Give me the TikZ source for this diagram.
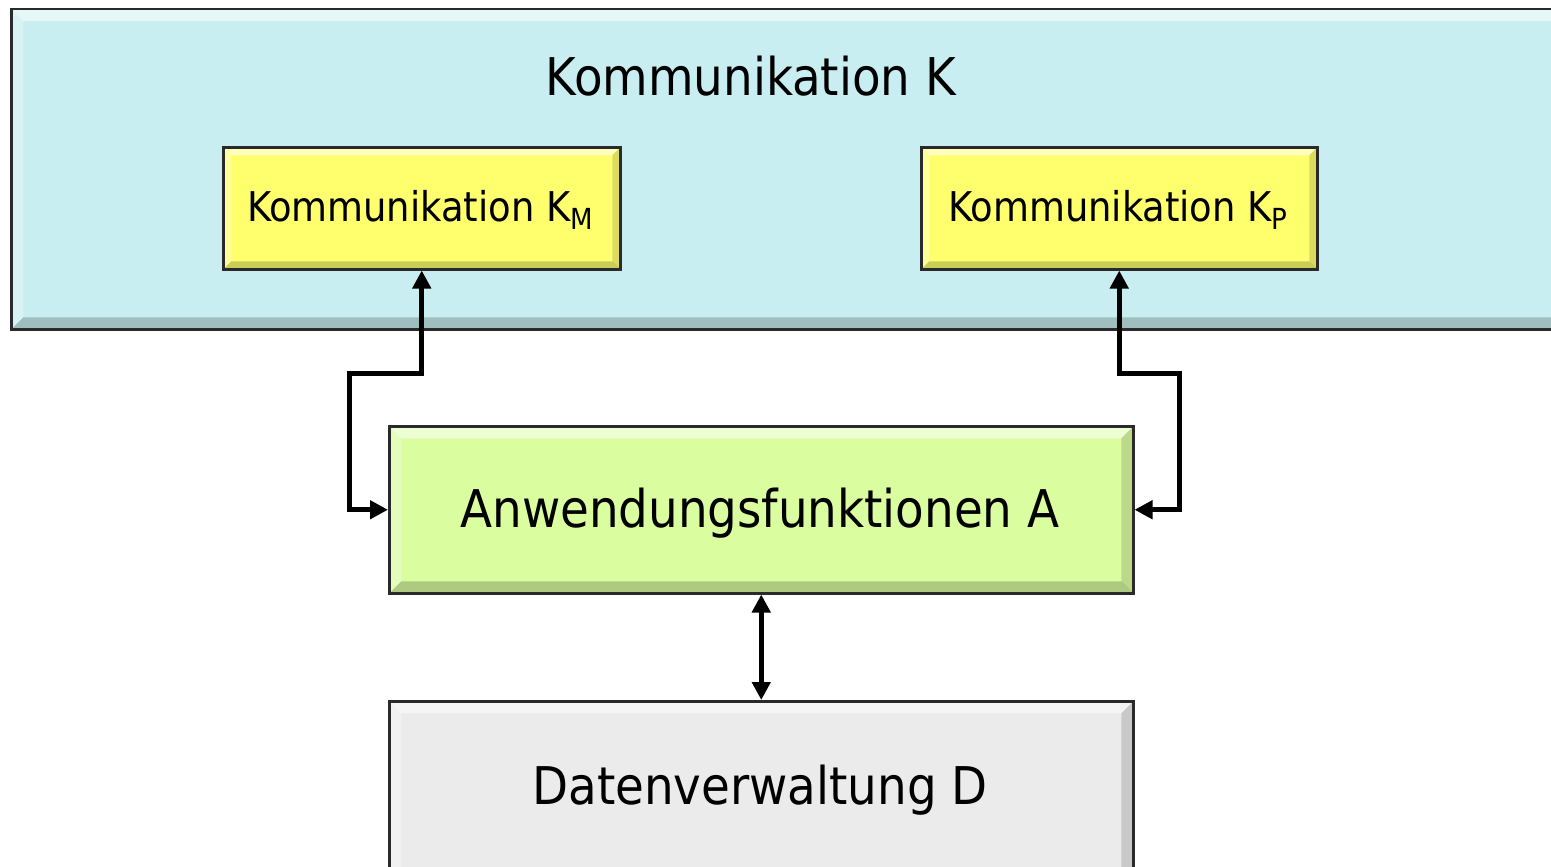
\documentclass[tikz,border=0pt]{standalone}
\usepackage{fontspec}
\setmainfont{DejaVu Sans Condensed}
\usetikzlibrary{arrows.meta}
\definecolor{kfill}{HTML}{C9EEF1}
\definecolor{subfill}{HTML}{FFFF6E}
\definecolor{afill}{HTML}{DAFDA0}
\definecolor{dfill}{HTML}{EBEBEB}
\definecolor{edge}{HTML}{2A2A2A}
\newcommand{\sub}[1]{\raisebox{-8pt}{\fontsize{29}{29}\selectfont #1}}
\tikzset{
  bevel/.style={path picture={
    \coordinate (bnw) at (path picture bounding box.north west);
    \coordinate (bne) at (path picture bounding box.north east);
    \coordinate (bsw) at (path picture bounding box.south west);
    \coordinate (bse) at (path picture bounding box.south east);
    \fill[white,opacity=0.55] (bnw) -- (bne) -- ([shift={(-#1,#1)}]bne) -- ([shift={(#1,#1)}]bnw) -- cycle;
    \fill[white,opacity=0.3] (bnw) -- (bsw) -- ([shift={(#1,-#1)}]bsw) -- ([shift={(#1,#1)}]bnw) -- cycle;
    \fill[black,opacity=0.2] (bsw) -- (bse) -- ([shift={(-#1,-#1)}]bse) -- ([shift={(#1,-#1)}]bsw) -- cycle;
    \fill[black,opacity=0.14] (bne) -- (bse) -- ([shift={(-#1,-#1)}]bse) -- ([shift={(-#1,#1)}]bne) -- cycle;
  }},
  box/.style={draw=edge, line width=2.5pt, inner sep=0pt, anchor=north west, bevel=12},
  dlink/.style={line width=5pt, draw=black, line join=miter,
    {Triangle[length=18pt,width=18pt]}-{Triangle[length=18pt,width=18pt]}}
}
\begin{document}
\begin{tikzpicture}[x=1pt,y=-1pt]
\useasboundingbox (0,0) rectangle (1551,867);
\clip (0,0) rectangle (1551,867);
% outer communication layer
\node[box, fill=kfill, minimum width=1562pt, minimum height=320pt] (K) at (10,8) {};
\node[font=\fontsize{52}{52}\selectfont] (Kt) at (751,76) {Kommunikation K};
% sub-communication boxes
\node[box, fill=subfill, minimum width=397pt, minimum height=122pt, bevel=8] (KM) at (222,146) {};
\node[font=\fontsize{41}{41}\selectfont, anchor=center] (KMt) at (420,210) {Kommunikation K\sub{M}};
\node[box, fill=subfill, minimum width=396pt, minimum height=122pt, bevel=8] (KP) at (920,146) {};
\node[font=\fontsize{41}{41}\selectfont, anchor=center] (KPt) at (1118,210) {Kommunikation K\sub{P}};
% application layer
\node[box, fill=afill, minimum width=744pt, minimum height=167pt] (A) at (388,425) {};
\node[font=\fontsize{52}{52}\selectfont] (At) at (760,513) {Anwendungsfunktionen A};
% data layer
\node[box, fill=dfill, minimum width=744pt, minimum height=200pt] (D) at (388,700) {};
\node[font=\fontsize{52}{52}\selectfont] (Dt) at (760,790) {Datenverwaltung D};
% connectors
\coordinate (lm) at (349,373);
\coordinate (rp) at (1179,373);
\draw[dlink] (KM.south) |- (lm) |- (A.west);
\draw[dlink] (KP.south) |- (rp) |- (A.east);
\draw[dlink] (A.south) -- (D.north);
\end{tikzpicture}
\end{document}
